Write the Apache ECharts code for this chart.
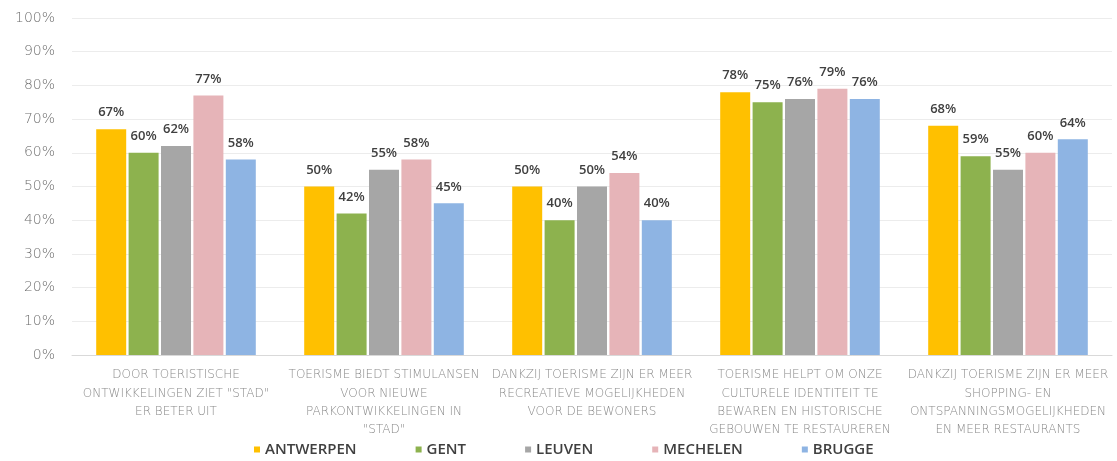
<!DOCTYPE html>
<html>
<head>
<meta charset="utf-8">
<script src="https://cdn.jsdelivr.net/npm/echarts@6/dist/echarts.min.js"></script>
<style>
  html, body { margin: 0; padding: 0; background: #fff; }
  #chart { width: 1117px; height: 461px; }
</style>
</head>
<body>
<div id="chart"></div>
<script>
// categorieen (stellingen)
const categories = [
  'DOOR TOERISTISCHE\nONTWIKKELINGEN ZIET "STAD"\nER BETER UIT',
  'TOERISME BIEDT STIMULANSEN\nVOOR NIEUWE\nPARKONTWIKKELINGEN IN\n"STAD"',
  'DANKZIJ TOERISME ZIJN ER MEER\nRECREATIEVE MOGELIJKHEDEN\nVOOR DE BEWONERS',
  'TOERISME HELPT OM ONZE\nCULTURELE IDENTITEIT TE\nBEWAREN EN HISTORISCHE\nGEBOUWEN TE RESTAUREREN',
  'DANKZIJ TOERISME ZIJN ER MEER\nSHOPPING- EN\nONTSPANNINGSMOGELIJKHEDEN\nEN MEER RESTAURANTS'
];
const cities = ['ANTWERPEN', 'GENT', 'LEUVEN', 'MECHELEN', 'BRUGGE'];
const antwerpen = [67, 50, 50, 78, 68];
const gent      = [60, 42, 40, 75, 59];
const leuven    = [62, 55, 50, 76, 55];
const mechelen  = [77, 58, 54, 79, 60];
const brugge    = [58, 45, 40, 76, 64];
const yTicks = [0, 10, 20, 30, 40, 50, 60, 70, 80, 90, 100];

const values = [antwerpen, gent, leuven, mechelen, brugge];
const colors = ['#FFC000', '#8DB24E', '#A6A6A6', '#E6B4B8', '#8EB4E3'];

const chart = echarts.init(document.getElementById('chart'));

const seriesList = cities.map((city, i) => ({
  name: city,
  type: 'bar',
  data: values[i],
  barWidth: 30,
  barGap: '8%',
  itemStyle: { color: colors[i] },
  label: {
    show: true,
    position: 'top',
    distance: 10,
    formatter: '{c}%',
    color: '#404040',
    fontFamily: 'Open Sans',
    fontSize: 13,
    fontWeight: 600
  }
}));

const option = {
  animation: false,
  backgroundColor: '#fff',
  grid: { left: 72, right: 5, top: 18, bottom: 106 },
  legend: {
    data: cities,
    left: 249,
    top: 437,
    icon: 'rect',
    itemWidth: 6,
    itemHeight: 6,
    itemGap: 59,
    textStyle: {
      color: '#404040',
      fontFamily: 'Open Sans',
      fontSize: 15,
      fontWeight: 600
    }
  },
  xAxis: {
    type: 'category',
    data: categories,
    axisLine: { lineStyle: { color: '#d9d9d9' } },
    axisTick: { show: false },
    axisLabel: {
      interval: 0,
      margin: 11,
      color: '#8a8a8a',
      fontFamily: 'DejaVu Sans',
      fontWeight: 200,
      fontSize: 12,
      lineHeight: 18.3
    }
  },
  yAxis: {
    type: 'value',
    min: 0,
    max: 100,
    interval: 10,
    axisLine: { show: false },
    axisTick: { show: false },
    splitLine: { lineStyle: { color: '#ececec' } },
    axisLabel: {
      margin: 17,
      color: '#6f6f6f',
      fontFamily: 'DejaVu Sans',
      fontWeight: 200,
      fontSize: 14,
      formatter: v => yTicks.includes(v) ? v + '%' : ''
    }
  },
  series: seriesList
};

chart.setOption(option);
</script>
</body>
</html>
